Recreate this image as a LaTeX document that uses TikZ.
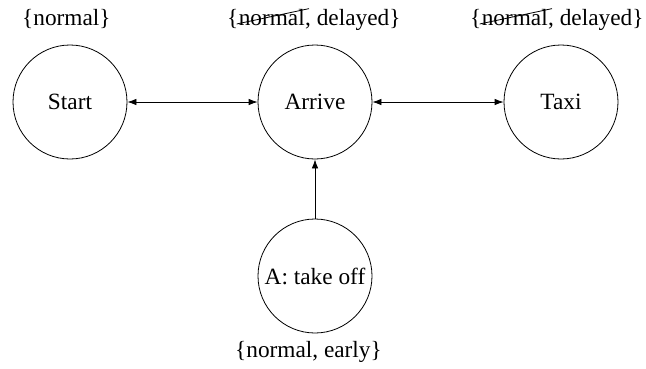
\documentclass[tikz,border=0pt]{standalone}
\usepackage{fontspec}
\setmainfont{Liberation Serif}
\usetikzlibrary{arrows.meta,calc}
\begin{document}
\begin{tikzpicture}[x=1pt,y=-1pt,
  txt/.style={font=\fontsize{23.3}{28}\selectfont},
  state/.style={circle,draw,line width=0.8pt,minimum size=114pt,inner sep=0pt,txt},
  lbl/.style={inner sep=0pt,txt},
  tip/.tip={Latex[length=9pt,width=6.5pt]},
  link/.style={line width=0.8pt,tip-tip},
  onelink/.style={line width=0.8pt,-tip},
  strike/.style={line width=0.8pt}]
\useasboundingbox (0,0) rectangle (646,368);

% states
\node[state] (start)   at (70,102)  {Start};
\node[state] (arrive)  at (315,102) {Arrive};
\node[state] (taxi)    at (561,102) {Taxi};
\node[state] (takeoff) at (315,276) {A: take off};

% value sets
\node[lbl,anchor=base west] (startlbl) at (22,25) {\{normal\}};

\node[lbl,anchor=base west] (arrl) at (227,25) {\{};
\node[lbl,anchor=base west] (arrw) at (arrl.base east) {normal};
\node[lbl,anchor=base west] (arrr) at (arrw.base east) {, delayed\}};

\node[lbl,anchor=base west] (taxl) at (470,25) {\{};
\node[lbl,anchor=base west] (taxw) at (taxl.base east) {normal};
\node[lbl,anchor=base west] (taxr) at (taxw.base east) {, delayed\}};

\node[lbl,anchor=base west] (tolbl) at (235,357) {\{normal, early\}};

% struck-out values
\draw[strike] ($(arrw.base west)+(-2pt,1pt)$) -- ($(arrw.north east)+(4pt,0pt)$);
\draw[strike] ($(taxw.base west)+(-2pt,1pt)$) -- ($(taxw.north east)+(4pt,0pt)$);

% connectors
\draw[link] (start) -- (arrive);
\draw[link] (arrive) -- (taxi);
\draw[onelink] (takeoff) -- (arrive);
\end{tikzpicture}
\end{document}
